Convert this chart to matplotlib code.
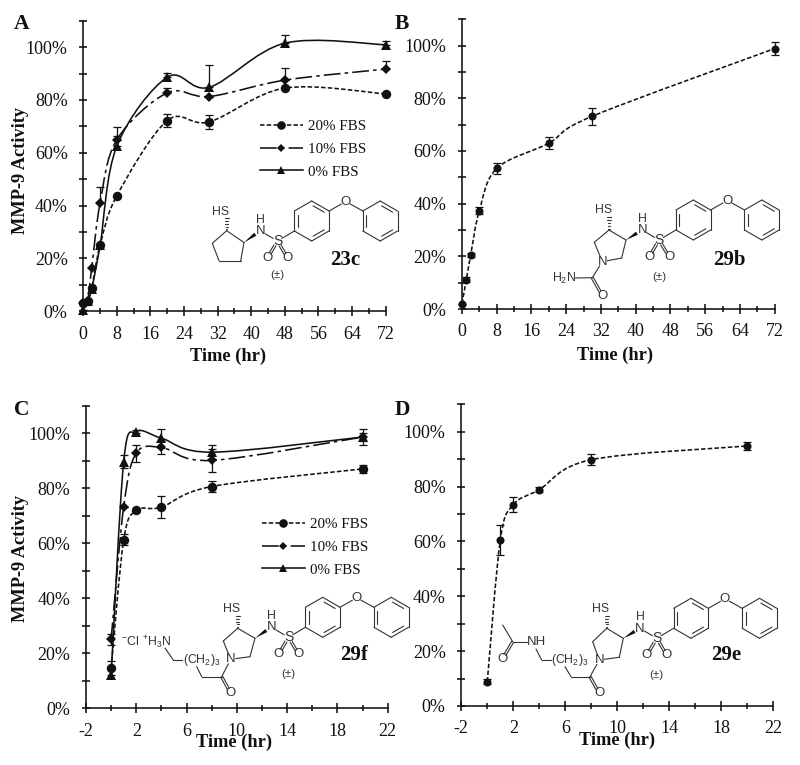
import numpy as np
import matplotlib
matplotlib.use("Agg")
import matplotlib.pyplot as plt
from matplotlib.path import Path
from matplotlib.patches import PathPatch, Polygon
from matplotlib.lines import Line2D

plt.rcParams['font.family'] = ['Liberation Serif', 'DejaVu Serif']
plt.rcParams['axes.unicode_minus'] = False

# ---------------- data ----------------
time_ab = [0, 1, 2, 4, 8, 20, 30, 48, 72]
a_20 = [3.3, 4, 8.7, 25, 43.8, 72.2, 71.7, 84.5, 82.3]
a_10 = [3, 4, 16.3, 41, 65, 82.7, 81.3, 87.5, 91.7]
a_0 = [0.5, 4, 8.5, 25, 62.6, 88.6, 84.8, 101.5, 100.9]
a_20_err = [0, 0, 0, 0, 0, 2.4, 2.7, 0, 0]
a_10_err = [0, 0, 0, 6, 1.5, 2, 0, 4.7, 3]
a_0_err = [0, 0, 0, 0, 7, 1.5, 8.3, 3, 1.5]

time_b = [0, 1, 2, 4, 8, 20, 30, 72]
b_vals = [2, 11.2, 20.5, 37.4, 53.4, 63, 73.2, 98.9]
b_err = [0, 1, 0.8, 1.5, 2.2, 2.2, 3.3, 2.4]

time_cd = [0, 1, 2, 4, 8, 20]
c_20 = [14.6, 61.3, 72, 73.2, 80.7, 87.1]
c_10 = [25.2, 73.4, 92.8, 94.9, 90.2, 98.7]
c_0 = [12.1, 89.8, 100.7, 98.3, 93.2, 98.7]
c_20_err = [0, 2, 0.5, 4, 2, 1.5]
c_10_err = [2, 0, 3, 2.5, 4.3, 1.5]
c_0_up = [5, 2.5, 0.5, 3.5, 2.5, 3]
c_0_low = [0, 2.5, 0.5, 3.5, 2.5, 3]

d_vals = [8.9, 60.5, 73.4, 78.9, 89.8, 94.8]
d_err = [0.8, 5.5, 2.7, 1, 2, 1.5]

series_labels = ['20% FBS', '10% FBS', '0% FBS']
y_ticks = [0, 20, 40, 60, 80, 100]
y_labels = ['0%', '20%', '40%', '60%', '80%', '100%']
x_ticks_ab = list(range(0, 73, 8))
x_ticks_cd = list(range(-2, 23, 4))

# ---------------- styles ----------------
W, H = 800, 765
INK = '#111111'
CHEM = '#333333'
LS_20 = (0, (2.8, 1.4))
LS_10 = (0, (10.5, 2.6, 2.2, 2.6))
LS_0 = '-'
LW = 1.15
STY = {
    '20': dict(ls=LS_20, marker='o', ms=6.8),
    '10': dict(ls=LS_10, marker='D', ms=4.8),
    '0': dict(ls=LS_0, marker='^', ms=7.0),
    'b': dict(ls=LS_20, marker='o', ms=5.8),
}

fig = plt.figure(figsize=(W / 100, H / 100), dpi=100, facecolor='white')
ov = fig.add_axes([0, 0, 1, 1], zorder=5)
ov.set_xlim(0, W)
ov.set_ylim(H, 0)
ov.axis('off')
ov.patch.set_alpha(0)


def make_axes(left, right, y0, ytop, xlim, majors, minor_step):
    ax = fig.add_axes([left / W, 1 - y0 / H, (right - left) / W, (y0 - ytop) / H])
    ax.patch.set_alpha(0)
    ax.set_xlim(*xlim)
    ax.set_ylim(0, 110)
    for s in ('top', 'right'):
        ax.spines[s].set_visible(False)
    for s in ('left', 'bottom'):
        ax.spines[s].set_linewidth(1.15)
        ax.spines[s].set_color(INK)
    ax.set_xticks(majors)
    ax.set_xticks(np.arange(xlim[0], xlim[1] + 0.1, minor_step), minor=True)
    ax.set_yticks(y_ticks)
    ax.set_yticklabels(y_labels)
    ax.set_yticks(np.arange(0, 111, 10), minor=True)
    ax.tick_params(axis='x', which='major', direction='inout', length=7.5, width=1.15, pad=6.5, labelsize=13, colors=INK)
    ax.tick_params(axis='x', which='minor', direction='inout', length=4.5, width=1.15, colors=INK)
    ax.tick_params(axis='y', which='both', direction='inout', length=6, width=1.15, colors=INK)
    ax.tick_params(axis='y', which='major', pad=8.2, labelsize=13)
    return ax


def smooth(ax, x, y, ls):
    """Draw a smoothed connection through the points as Bezier segments."""
    p = np.column_stack([x, y]).astype(float)
    ext = np.vstack([p[0], p, p[-1]])
    verts = [p[0]]
    codes = [Path.MOVETO]
    for i in range(1, len(ext) - 2):
        verts += [ext[i] + (ext[i + 1] - ext[i - 1]) / 6,
                  ext[i + 1] - (ext[i + 2] - ext[i]) / 6,
                  ext[i + 1]]
        codes += [Path.CURVE4] * 3
    ax.add_patch(PathPatch(Path(verts, codes), fill=False, lw=LW, ec=INK, ls=ls,
                           clip_on=False, zorder=3))


def series(ax, x, y, lower, upper, key):
    st = STY[key]
    smooth(ax, x, y, st['ls'])
    e = ax.errorbar(x, y, yerr=[lower, upper], fmt='none', ecolor=INK, elinewidth=0.9,
                    capsize=2.7, capthick=0.9, clip_on=False, zorder=3)
    for c in list(e[1]) + list(e[2]):
        c.set_clip_on(False)
    ax.plot(x, y, ls='none', marker=st['marker'], ms=st['ms'], color=INK, mew=0,
            clip_on=False, zorder=4)


def labels(ax, xpos, ypos, ylab=None):
    ax.set_xlabel('Time (hr)', fontweight='bold', fontsize=13.2, color=INK, va='center', ha='center')
    ax.xaxis.set_label_coords(xpos, ypos, transform=ov.transData)
    if ylab:
        ax.set_ylabel('MMP-9 Activity', fontweight='bold', fontsize=13.2, color=INK, va='center', ha='center')
        ax.yaxis.set_label_coords(ylab[0], ylab[1], transform=ov.transData)


def legend(ax, px, py):
    hs = [Line2D([], [], color=INK, lw=LW, ls=STY[k]['ls'], marker=STY[k]['marker'],
                 ms=STY[k]['ms'] - 0.6, mew=0) for k in ('20', '10', '0')]
    ax.legend(hs, series_labels, loc='center left', bbox_to_anchor=(px, py),
              bbox_transform=ov.transData, frameon=False, fontsize=10.8, handlelength=2.85,
              handletextpad=0.35, labelspacing=0.62, borderpad=0, borderaxespad=0,
              labelcolor=INK)


# ---------------- panels ----------------
zeros9 = [0] * 9
axA = make_axes(83.3, 385.7, 311.3, 20.7, (0, 72), x_ticks_ab, 4)
series(axA, time_ab, a_20, a_20_err, a_20_err, '20')
series(axA, time_ab, a_10, zeros9, a_10_err, '10')
series(axA, time_ab, a_0, zeros9, a_0_err, '0')
labels(axA, 227.7, 356.7, (20.7, 170))
legend(axA, 260, 149)

axB = make_axes(462, 774.7, 309, 19.3, (0, 72), x_ticks_ab, 4)
series(axB, time_b, b_vals, b_err, b_err, 'b')
labels(axB, 615, 355.7)

axC = make_axes(86, 387.7, 708.3, 406, (-2, 22), x_ticks_cd, 2)
series(axC, time_cd, c_20, c_20_err, c_20_err, '20')
series(axC, time_cd, c_10, c_10_err, c_10_err, '10')
series(axC, time_cd, c_0, c_0_low, c_0_up, '0')
labels(axC, 234, 742, (20.7, 558))
legend(axC, 262, 547)

axD = make_axes(461.3, 773.3, 706, 404.3, (-2, 22), x_ticks_cd, 2)
series(axD, time_cd, d_vals, d_err, d_err, 'b')
labels(axD, 616.7, 740.7)

for t, x, y in [('A', 21.7, 24), ('B', 402, 24), ('C', 22, 410), ('D', 402, 410)]:
    ov.text(x, y, t, fontsize=15.5, fontweight='bold', ha='center', va='center', color=INK)


# ---------------- chemical structures ----------------
def bond(p, q, sp=0, sq=0):
    p, q = np.array(p, float), np.array(q, float)
    u = (q - p) / np.hypot(*(q - p))
    a, b = p + u * sp, q - u * sq
    ov.plot([a[0], b[0]], [a[1], b[1]], color=CHEM, lw=0.8, solid_capstyle='round')


def atom(x, y, s, size=8.8):
    ov.text(x, y, s, fontsize=size, family=['Liberation Sans', 'DejaVu Sans'], color=CHEM,
            ha='center', va='center')


def ring(cx, cy, r=20):
    ang = np.deg2rad(np.arange(6) * 60 - 90)
    v = np.column_stack([cx + r * np.cos(ang), cy + r * np.sin(ang)])
    for i in range(6):
        bond(v[i], v[(i + 1) % 6])
    c = np.array([cx, cy])
    for i in (0, 2, 4):
        a = c + (v[i] - c) * 0.8
        b = c + (v[i + 1] - c) * 0.8
        m = (a + b) / 2
        bond(m + (a - m) * 0.8, m + (b - m) * 0.8)
    return v


def wedge(p, q):
    p, q = np.array(p, float), np.array(q, float)
    u = (q - p) / np.hypot(*(q - p))
    n = np.array([-u[1], u[0]])
    ov.add_patch(Polygon([p, q + n * 1.8, q - n * 1.8], closed=True, fc='#111111', ec='none'))


def hashed(p, q):
    p, q = np.array(p, float), np.array(q, float)
    u = (q - p) / np.hypot(*(q - p))
    n = np.array([-u[1], u[0]])
    for f in (0.1, 0.3, 0.5, 0.7, 0.9):
        c = p + (q - p) * f
        w = 0.4 + 1.8 * f
        bond(c - n * w, c + n * w)


def double(p, q, sp=0, sq=0, off=1.4):
    p, q = np.array(p, float), np.array(q, float)
    u = (q - p) / np.hypot(*(q - p))
    n = np.array([-u[1], u[0]]) * off
    bond(p + n, q + n, sp, sq)
    bond(p - n, q - n, sp, sq)


def core(cx, cy, pm_dy, c3):
    """Diphenyl ether sulfonamide; c3 is the carbon that carries the wedge bond."""
    v1 = ring(cx, cy)
    v2 = ring(cx + 68.5, cy)
    O = (cx + 34, cy - 19.5)
    atom(O[0], O[1], 'O', 9.5)
    bond(v1[1], O, 0, 5)
    bond(O, v2[5], 5, 0)
    S = np.array([cx - 34.2, cy + 20])
    atom(S[0], S[1], 'S', 10)
    bond(S, v1[4], 5, 0)
    N = S + (-16.7, -9.8)
    atom(N[0], N[1], 'N', 9.5)
    atom(N[0], N[1] - 11.5, 'H', 8.8)
    bond(N, S, 5, 5)
    for sx in (-1, 1):
        o = S + (sx * 10, 17)
        atom(o[0], o[1], 'O', 9.5)
        double(S, o, 5, 5, 1.1)
    atom(S[0], S[1] + pm_dy, '(±)', 8.2)
    wedge(c3, N + (-5.5, 3))


def serif_name(x, y, s):
    ov.text(x, y, s, fontsize=15, fontweight='bold', ha='center', va='center', color=INK)


# 23c
core(311.7, 221, 34, (244, 242.5))
ov_pts = [(226.7, 230.7), (244, 242.5), (240.7, 260.7), (219, 260.7), (212.3, 243.3)]
for i in range(5):
    bond(ov_pts[i], ov_pts[(i + 1) % 5])
atom(220.7, 211.7, 'HS')
hashed(ov_pts[0], (226.7, 217))
serif_name(345, 260, '23c')

# 29b
core(693.3, 220, 37, (626, 240))
pts = [(609, 230), (626, 240), (621.7, 258), (602.3, 261.7), (594.3, 242.3)]
atom(602.3, 261.7, 'N', 9.5)
bond(pts[0], pts[1]); bond(pts[1], pts[2]); bond(pts[2], pts[3], 0, 5)
bond(pts[3], pts[4], 5, 0); bond(pts[4], pts[0])
atom(603.3, 210, 'HS')
hashed(pts[0], (609, 216))
bond((602.3, 261.7), (592.3, 277.7), 5, 0)
atom(564, 278, r'$\mathregular{H_2N}$')
bond((592.3, 277.7), (575, 278))
atom(602.3, 295.7, 'O', 9.5)
double((592.3, 277.7), (602.3, 295.7), 0, 5, 1.1)
serif_name(729.3, 260, '29b')

# 29f
core(322.7, 617.3, 37, (255, 638.3))
pts = [(237.7, 628.3), (255, 638.3), (250, 656.7), (230.7, 659.3), (223.3, 641)]
atom(230.7, 659.3, 'N', 9.5)
bond(pts[0], pts[1]); bond(pts[1], pts[2]); bond(pts[2], pts[3], 0, 5)
bond(pts[3], pts[4], 5, 0); bond(pts[4], pts[0])
atom(231.7, 609, 'HS')
hashed(pts[0], (237.7, 615))
bond((230.7, 659.3), (221.7, 676.7), 5, 0)
double((221.7, 676.7), (230.7, 693.3), 0, 5, 1.1)
atom(230.7, 693.3, 'O', 9.5)
bond((221.7, 676.7), (201.7, 676.7))
bond((201.7, 676.7), (196.7, 666.7))
atom(201.5, 660, r'$\mathregular{(CH_2)_3}$')
bond((181.5, 660), (173.3, 660))
bond((173.3, 660), (165, 648))
atom(146, 642, r'$\mathregular{{}^{-}Cl\ {}^{+}H_3N}$')
serif_name(354.3, 655, '29f')

# 29e
core(691, 618.3, 37, (623.3, 638.3))
pts = [(606.7, 628.3), (623.3, 638.3), (619.3, 657.3), (599.3, 660), (592.7, 641.7)]
atom(599.3, 660, 'N', 9.5)
bond(pts[0], pts[1]); bond(pts[1], pts[2]); bond(pts[2], pts[3], 0, 5)
bond(pts[3], pts[4], 5, 0); bond(pts[4], pts[0])
atom(600.7, 609, 'HS')
hashed(pts[0], (606.7, 615))
bond((599.3, 660), (590, 676.7), 5, 0)
double((590, 676.7), (599.3, 693.3), 0, 5, 1.1)
atom(599.3, 693.3, 'O', 9.5)
bond((590, 676.7), (571, 676.7))
bond((571, 676.7), (565, 666.7))
atom(570, 660.5, r'$\mathregular{(CH_2)_3}$')
bond((551, 660), (541.7, 660))
bond((541.7, 660), (536, 649))
atom(536, 642, 'NH', 9.5)
bond((526.7, 641.7), (512.7, 641.7))
bond((512.7, 641.7), (502.7, 625))
double((512.7, 641.7), (502.3, 659.3), 0, 5, 1.1)
atom(502.3, 659.3, 'O', 9.5)
serif_name(725.7, 655, '29e')

fig.savefig('out.png', dpi=100, facecolor='white')
